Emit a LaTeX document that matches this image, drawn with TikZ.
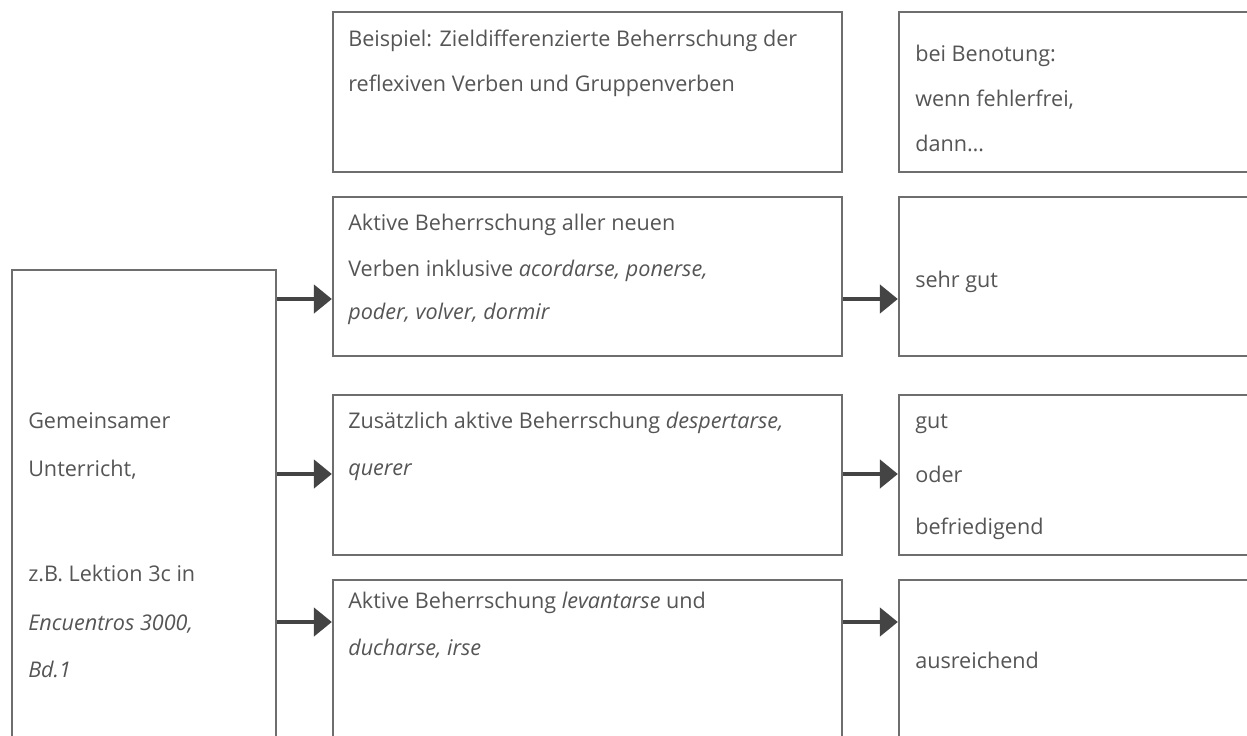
\documentclass[tikz,border=0pt]{standalone}
\usepackage{fontspec}
\setmainfont{Open Sans}
\usetikzlibrary{fit,arrows.meta}
\definecolor{boxline}{HTML}{6E6E6E}
\definecolor{txt}{HTML}{555555}
\definecolor{arrowc}{HTML}{444444}
\tikzset{
  box/.style={draw=boxline, line width=1.1pt, inner sep=0pt, rectangle},
  txtline/.style={anchor=base west, inner sep=0pt, text=txt, font=\fontsize{16.2pt}{19pt}\selectfont},
  arr/.style={draw=arrowc, line width=3.6pt, -{Triangle[length=13.5pt, width=21pt]}, shorten >=0.3pt}
}
\begin{document}
\begin{tikzpicture}[x=0.75pt, y=-0.75pt]
\clip (0,0) rectangle (1247,736);
\fill[white] (0,0) rectangle (1247,736);
% boxes
\node[box, fit={(12,270) (276,760)}] (L) {};
\node[box, fit={(333,12) (842,172)}] (M1) {};
\node[box, fit={(333,197) (842,356)}] (M2) {};
\node[box, fit={(333,395) (842,555)}] (M3) {};
\node[box, fit={(333,580) (842,760)}] (M4) {};
\node[box, fit={(899,12) (1270,172)}] (R1) {};
\node[box, fit={(899,197) (1270,356)}] (R2) {};
\node[box, fit={(899,395) (1270,555)}] (R3) {};
\node[box, fit={(899,580) (1270,760)}] (R4) {};
% texts left
\node[txtline] (l1) at (28,428) {Gemeinsamer};
\node[txtline] (l2) at (28,476) {Unterricht,};
\node[txtline] (l3) at (28,581) {z.B. Lektion 3c in};
\node[txtline] (l4) at (28,630) {\itshape Encuentros 3000,};
\node[txtline] (l5) at (28,677) {\itshape Bd.1};
% texts middle
\node[txtline] (m11) at (348,46) {Beispiel: Zieldifferenzierte Beherrschung der};
\node[txtline] (m12) at (348,91) {reflexiven Verben und Gruppenverben};
\node[txtline] (m21) at (348,230) {Aktive Beherrschung aller neuen};
\node[txtline] (m22) at (348,276) {Verben inklusive \textit{acordarse, ponerse,}};
\node[txtline] (m23) at (348,319) {\itshape poder, volver, dormir};
\node[txtline] (m31) at (348,428) {Zusätzlich aktive Beherrschung \textit{despertarse,}};
\node[txtline] (m32) at (348,475) {\itshape querer};
\node[txtline] (m41) at (348,608) {Aktive Beherrschung \textit{levantarse} und};
\node[txtline] (m42) at (348,655) {\itshape ducharse, irse};
% texts right
\node[txtline] (r11) at (915,61) {bei Benotung:};
\node[txtline] (r12) at (915,106) {wenn fehlerfrei,};
\node[txtline] (r13) at (915,151) {dann…};
\node[txtline] (r21) at (915,287) {sehr gut};
\node[txtline] (r31) at (915,428) {gut};
\node[txtline] (r32) at (915,482) {oder};
\node[txtline] (r33) at (915,534) {befriedigend};
\node[txtline] (r41) at (915,668) {ausreichend};
% arrows
\draw[arr] (L.east |- 0,299) -- (M2.west |- 0,299);
\draw[arr] (L.east |- 0,474) -- (M3.west |- 0,474);
\draw[arr] (L.east |- 0,622) -- (M4.west |- 0,622);
\draw[arr] (M2.east |- 0,299) -- (R2.west |- 0,299);
\draw[arr] (M3.east |- 0,474) -- (R3.west |- 0,474);
\draw[arr] (M4.east |- 0,622) -- (R4.west |- 0,622);
\end{tikzpicture}
\end{document}
